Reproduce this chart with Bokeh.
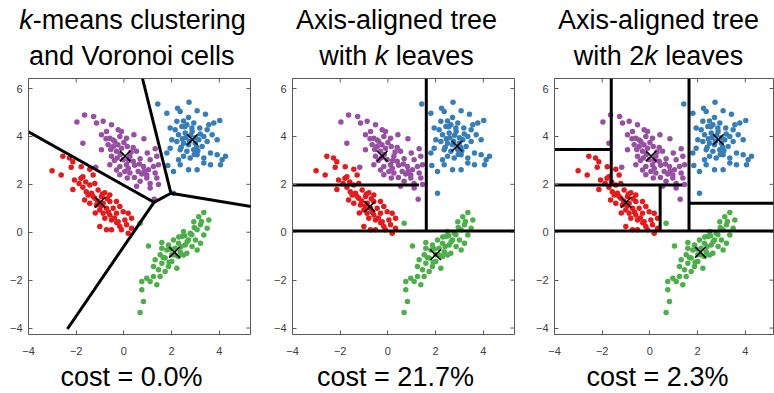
from bokeh.plotting import figure
from bokeh.layouts import row, column
from bokeh.models import Range1d, FixedTicker, Label
from bokeh.embed import file_html
from bokeh.resources import INLINE

RED, BLUE, GREEN, PURPLE = "#e41a1c", "#377eb8", "#4daf4a", "#984ea3"

blue_pts = [(1.42,5.35),(2.73,5.43),(2.25,5.18),(1.80,4.97),(2.36,5.04),(3.07,5.07),(3.42,4.93),(4.02,4.67),
            (2.71,4.79),(2.50,4.65),(2.22,4.63),(1.94,4.35),(2.15,4.28),(2.43,4.42),(2.64,4.49),(2.93,4.56),
            (3.18,4.35),(3.49,4.28),(3.56,4.49),(3.77,4.56),(2.86,4.21),(2.57,4.14),(2.29,4.07),(2.01,3.86),
            (2.22,3.79),(2.50,3.72),(2.71,3.65),(2.99,3.72),(3.14,3.86),(3.35,4.00),(3.70,4.07),(3.91,3.86),
            (3.49,3.79),(3.28,3.58),(2.93,3.44),(2.64,3.38),(2.36,3.44),(1.94,3.51),(1.80,3.31),(2.50,3.17),
            (2.78,3.10),(3.07,3.24),(3.35,3.10),(3.63,3.31),(3.91,3.24),(4.12,3.03),(4.05,2.82),(4.26,3.17),
            (3.63,2.82),(3.35,2.89),(3.07,2.61),(2.71,2.61),(2.36,2.82),(2.08,2.54),(1.84,2.79),(2.29,3.03),
            (2.08,1.63),(2.60,3.95),(2.80,4.05),(3.00,3.95),(2.75,3.80),(3.05,3.55),(2.45,3.90),(2.85,4.35),
            (3.20,4.10),(2.40,3.55),(3.10,3.40),(2.55,4.40),(2.95,3.25)]
purple_pts = [(-1.65,4.90),(-1.27,4.83),(-1.97,4.60),(-1.15,4.56),(-0.87,4.63),(-0.52,4.49),(-0.24,4.28),
              (-0.10,4.21),(-0.73,4.21),(-0.94,4.07),(-0.59,3.93),(-0.38,3.79),(-0.17,4.00),(0.11,3.93),
              (0.42,4.07),(0.84,3.90),(-1.72,3.72),(-0.94,3.44),(-0.66,3.65),(-0.45,3.58),(-0.31,3.38),
              (-0.10,3.51),(0.14,3.58),(0.39,3.54),(0.53,3.38),(0.25,3.17),(-0.03,3.03),(-0.28,3.10),
              (-0.52,3.17),(-0.59,2.82),(-0.17,2.75),(0.11,2.82),(0.39,2.96),(0.68,3.07),(0.98,3.31),
              (1.31,3.49),(1.38,3.17),(1.10,3.03),(0.82,2.75),(0.60,2.54),(0.25,2.47),(0.04,2.54),
              (-0.17,2.40),(0.14,2.26),(0.44,2.29),(0.75,2.43),(1.03,2.61),(1.24,2.75),(1.45,2.82),
              (1.31,2.47),(0.96,2.26),(0.68,2.13),(0.53,1.92),(1.10,1.85),(1.38,2.26),(1.45,1.99),
              (-1.18,2.71),(1.27,1.38),(-0.31,2.60),(0.18,2.67),(0.96,2.39),(1.10,2.04),
              (-0.45,3.85),(-0.25,3.65),(0.00,3.75),(-0.55,3.45),(-0.15,3.25),(0.30,3.35),(0.45,2.80),
              (-0.40,3.00),(0.20,3.00),(-0.75,3.90),(0.65,2.85),(0.85,2.55)]
red_pts = [(-2.56,3.17),(-2.28,3.10),(-3.01,2.57),(-2.63,2.39),(-2.21,2.71),(-2.14,2.94),(-1.79,2.74),
           (-1.43,2.63),(-1.29,2.39),(-1.72,2.32),(-2.07,2.18),(-1.88,2.04),(-2.14,1.79),(-1.72,1.88),
           (-1.43,1.97),(-1.22,2.04),(-1.58,1.69),(-1.36,1.63),(-1.08,1.76),(-0.80,1.65),(-0.59,1.56),
           (-0.94,1.49),(-1.22,1.42),(-1.65,1.35),(-1.43,1.21),(-1.15,1.14),(-0.87,1.21),(-0.59,1.28),
           (-0.31,1.28),(-0.17,1.07),(-0.45,1.00),(-0.73,1.00),(-1.01,0.93),(-0.87,0.79),(-0.59,0.72),
           (-0.31,0.79),(-0.03,0.86),(0.18,0.79),(0.32,0.58),(0.04,0.51),(-0.24,0.44),(-0.52,0.51),
           (-0.80,0.58),(-1.01,0.24),(-0.73,0.10),(-0.52,0.10),(-0.17,0.24),(0.11,0.31),(0.32,0.17),
           (0.18,-0.04),(-0.10,0.10),(-1.30,1.50),(-1.10,1.30),(-0.70,1.40),(-0.95,1.10),(-0.40,0.60),
           (-0.65,0.85),(-1.50,1.55),(-1.20,0.80),(-0.30,0.40),(-1.80,2.25),(-1.60,2.10),(-0.90,1.60)]
green_pts = [(3.35,0.82),(3.14,0.65),(3.56,0.51),(2.93,0.44),(3.21,0.31),(3.49,0.17),(3.07,0.10),
             (2.78,-0.04),(3.35,-0.11),(2.50,0.03),(2.43,-0.18),(2.71,-0.32),(3.00,-0.32),(3.21,-0.46),
             (3.07,-0.74),(2.86,-0.60),(2.57,-0.53),(2.29,-0.46),(2.08,-0.32),(1.87,-0.53),(2.15,-0.67),
             (2.36,-0.81),(2.64,-0.88),(2.29,-1.01),(2.01,-0.94),(1.80,-0.74),(1.59,-0.67),(1.52,-0.94),
             (1.73,-1.08),(2.01,-1.22),(2.22,-1.50),(1.87,-1.43),(1.59,-1.29),(1.31,-1.15),(1.24,-1.43),
             (1.45,-1.57),(1.73,-1.64),(1.52,-1.85),(1.24,-1.85),(0.96,-1.92),(0.75,-2.06),(1.10,-2.06),
             (1.38,-2.19),(0.75,-2.40),(0.82,-2.89),(0.68,-3.35),(1.03,-0.57),(1.59,-0.43),(0.68,0.38),
             (2.30,-0.20),(2.55,-0.15),(2.40,-0.60),(2.15,-0.95),(1.95,-0.70),(2.65,-0.40),(2.85,-0.10),
             (1.65,-1.05),(1.90,-1.25),(2.50,-0.95),(3.25,0.45),(2.95,0.20)]

# cluster centres: purple, blue, red, green
kmeans_cx = [0.05, 2.87, -1.00, 2.12]
kmeans_cy = [3.18, 3.87, 1.25, -0.84]
treek_cx = [-0.24, 2.90, -0.76, 2.00]
treek_cy = [3.18, 3.60, 1.07, -0.94]

# boundary paths per panel
voronoi_xs = [[-4.00, 1.26, 1.97, 0.78], [1.26, -2.37], [1.97, 5.34]]
voronoi_ys = [[4.19, 1.25, 1.63, 6.42], [1.25, -4.04], [1.63, 1.07]]
treek_xs = [[-4.00, 5.40], [1.61, 1.61], [-4.00, 1.30]]
treek_ys = [[0.05, 0.05], [0.05, 6.42], [1.97, 1.97]]
tree2k_xs = [[-4.00, 5.40], [1.64, 1.64], [-1.62, -1.62], [-4.00, -1.62], [-4.00, 1.36], [0.43, 0.43], [1.64, 5.40]]
tree2k_ys = [[0.05, 0.05], [0.05, 6.42], [1.97, 6.42], [3.46, 3.46], [1.97, 1.97], [0.05, 1.97], [1.21, 1.21]]

costs = ["cost = 0.0%", "cost = 21.7%", "cost = 2.3%"]
titles = [
    [[("k", "italic"), ("-means clustering", "normal")], [("and Voronoi cells", "normal")]],
    [[("Axis-aligned tree", "normal")], [("with ", "normal"), ("k", "italic"), (" leaves", "normal")]],
    [[("Axis-aligned tree", "normal")], [("with 2", "normal"), ("k", "italic"), (" leaves", "normal")]],
]
x_ticks = [-4, -2, 0, 2, 4]
y_ticks = [-4, -2, 0, 2, 4, 6]

# approximate advance widths (Arial / Liberation Sans metrics, per 1000 em)
W = {' ': 278, '-': 333, '=': 584, '%': 889, '.': 278, 'A': 667, 'V': 667, 'a': 556, 'b': 556, 'c': 500,
     'd': 556, 'e': 556, 'f': 278, 'g': 556, 'h': 556, 'i': 222, 'j': 222, 'k': 500, 'l': 222, 'm': 833,
     'n': 556, 'o': 556, 'p': 556, 'q': 556, 'r': 333, 's': 500, 't': 278, 'u': 556, 'v': 500, 'w': 722,
     'x': 500, 'y': 500, 'z': 500}
def tw(s, size):
    return sum(W.get(c, 556) for c in s) / 1000.0 * size

FONT = "Liberation Sans"
TSIZE = 27
PX = 23.85
Y0, Y1 = -4.27, 6.42
FRAME_H = 256
TOPB, BOTB = 2, 24
TITLE_H, COST_H = 76, 35
AX = "#5a5a5a"
SHIFT = 10  # label anchor correction (renderer places alphabetic baseline this much lower)

def no_align(f):
    if hasattr(f, "frame_align"):
        f.frame_align = False
    return f

def add_text_line(p, segs, cx, y, size):
    total = sum(tw(t, size) for t, _ in segs)
    x = cx - total / 2
    for t, style in segs:
        txt = t.strip()
        lead = tw(t[:len(t) - len(t.lstrip())], size)
        p.add_layout(Label(x=x + lead, y=y + SHIFT, text=txt,
                           text_font=FONT, text_font_size=f"{size}px", text_font_style=style,
                           text_align="left", text_baseline="alphabetic", text_color="black"))
        x += tw(t, size)

def bare(width, height):
    f = figure(width=width, height=height, x_range=Range1d(0, width), y_range=Range1d(0, height),
               x_axis_type=None, y_axis_type=None, output_backend="svg", toolbar_location=None,
               min_border=0, min_border_left=0, min_border_right=0, min_border_top=0, min_border_bottom=0)
    f.grid.visible = False
    f.outline_line_color = None
    return no_align(f)

def make_panel(i, left, frame_w, right, xs, ys, cx, cy):
    x_end = -4 + frame_w / PX
    width = left + frame_w + right
    p = figure(width=width, height=TOPB + FRAME_H + BOTB,
               x_range=Range1d(-4, x_end), y_range=Range1d(Y0, Y1),
               output_backend="svg", toolbar_location=None,
               min_border_left=left, min_border_right=right, min_border_top=TOPB, min_border_bottom=BOTB)
    no_align(p)
    p.grid.visible = False
    p.outline_line_color = AX
    p.outline_line_width = 1
    for ax in (p.xaxis[0], p.yaxis[0]):
        ax.major_tick_in = 4
        ax.major_tick_out = 0
        ax.minor_tick_line_color = None
        ax.axis_line_color = AX
        ax.major_tick_line_color = AX
        ax.major_label_text_font = FONT
        ax.major_label_text_font_size = "11px"
        ax.major_label_text_color = "#404040"
    p.xaxis[0].ticker = FixedTicker(ticks=x_ticks)
    p.yaxis[0].ticker = FixedTicker(ticks=y_ticks)
    p.xaxis[0].major_label_standoff = 12
    p.yaxis[0].major_label_standoff = 6

    for pts, col in ((blue_pts, BLUE), (purple_pts, PURPLE), (red_pts, RED), (green_pts, GREEN)):
        p.scatter([q[0] for q in pts], [q[1] for q in pts], size=5.5, color=col, line_color=None)
    p.multi_line(xs, ys, line_color="black", line_width=3)
    p.scatter(cx, cy, marker="x", size=15, line_color="black", line_width=1.6)
    # mirrored inward ticks on the top and right edges of the box
    p.segment(x0=x_ticks, y0=[Y1] * len(x_ticks), x1=x_ticks, y1=[Y1 - 4 / PX] * len(x_ticks),
              line_color=AX, line_width=1)
    p.segment(x0=[x_end] * len(y_ticks), y0=y_ticks, x1=[x_end - 4 / PX] * len(y_ticks), y1=y_ticks,
              line_color=AX, line_width=1)

    cxs = left + 111 - 7
    t = bare(width, TITLE_H)
    add_text_line(t, titles[i][0], cxs, TITLE_H - 29.3, TSIZE)
    add_text_line(t, titles[i][1], cxs, TITLE_H - 65, TSIZE)
    c = bare(width, COST_H)
    add_text_line(c, [(costs[i], "normal")], cxs - 1, 6.5, TSIZE)
    return column(t, p, c, spacing=0)

p1 = make_panel(0, 28, 222, 4, voronoi_xs, voronoi_ys, kmeans_cx, kmeans_cy)
p2 = make_panel(1, 38, 222, 4, treek_xs, treek_ys, treek_cx, treek_cy)
p3 = make_panel(2, 36, 219, 1, tree2k_xs, tree2k_ys, kmeans_cx, kmeans_cy)

layout = row(p1, p2, p3, spacing=0)
open("out.html", "w").write(file_html(layout, INLINE))
